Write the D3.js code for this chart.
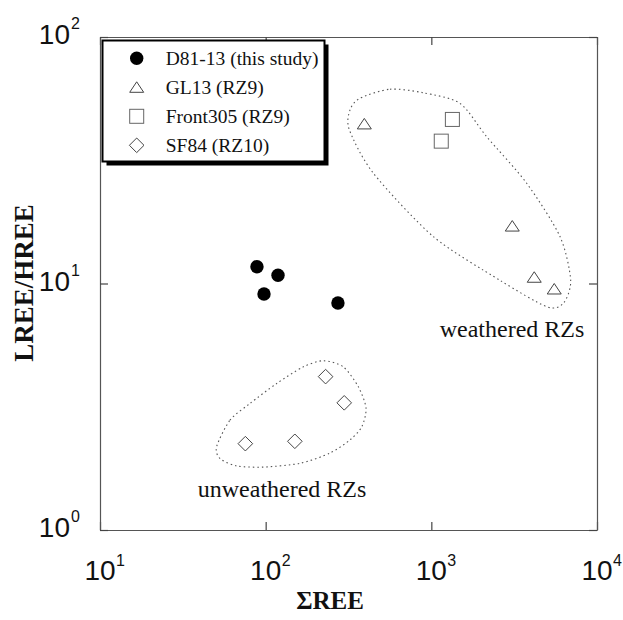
<!DOCTYPE html>
<meta charset="utf-8">
<style>
body { margin: 0; background: #fff; }
.tick-lab { font-family: "Liberation Sans", Arial, sans-serif; fill: #111; }
.serif { font-family: "Liberation Serif", "Times New Roman", serif; fill: #111; }
</style>
<body>
<svg id="chart" width="623" height="620"></svg>
<script src="https://d3js.org/d3.v7.min.js"></script>
<script>

// samples: sum REE vs LREE/HREE
var d81 = [[88.6, 11.7], [97.7, 9.07], [118.7, 10.8], [273, 8.34]];
var gl13 = [[394, 44.4], [3080, 17.1], [4180, 10.6], [5520, 9.5]];
var front305 = [[1340, 46.3], [1148, 37.8]];
var sf84 = [[230, 4.19], [298, 3.28], [75.4, 2.24], [150, 2.29]];

// dotted envelopes (data coords)
var weathered = [[371, 56.4], [563, 61.4], [894, 59.4], [1489, 53.8], [2158, 39.4], [3765, 25.5],
  [5980, 15.5], [6935, 10.3], [6260, 8.31], [4970, 8.05], [2597, 10.3], [1028, 15.5],
  [447, 28.0], [320, 42.0], [323, 50.6]];
var unweathered = [[50.6, 2.18], [60.9, 2.79], [80.4, 3.26], [116.6, 3.93], [168.7, 4.59],
  [222.8, 4.86], [294.1, 4.59], [362.6, 3.81], [403.5, 3.12], [380, 2.62], [323, 2.32],
  [244, 2.05], [161, 1.865], [96.8, 1.80], [66.8, 1.82], [53.0, 1.95]];

var xTicks = [10, 100, 1000, 10000];
var yTicks = [1, 10, 100];
var legendLabels = ["D81-13 (this study)", "GL13 (RZ9)", "Front305 (RZ9)", "SF84 (RZ10)"];
var zoneLabels = [["weathered RZs", 3070, 6.08], ["unweathered RZs", 125.6, 1.365]];

var svg = d3.select("#chart");
var pl = 100, pr = 597, pt = 37, pb = 530;

var x = d3.scaleLog().domain([10, 1e4]).range([pl, pr]);
var y = d3.scaleLog().domain([1, 100]).range([pb, pt]);

function frameAxis(axis, tx, ty) {
  var g = svg.append("g").attr("transform", "translate(" + tx + "," + ty + ")").call(axis);
  g.selectAll("text").remove();
  g.select(".domain").attr("stroke", "#555").attr("stroke-width", 1.2);
  g.selectAll(".tick line").attr("stroke", "#444").attr("stroke-width", 1.2);
  return g;
}
frameAxis(d3.axisBottom(x).tickValues(xTicks).tickSizeInner(-8).tickSizeOuter(0), 0, pb);
frameAxis(d3.axisTop(x).tickValues(xTicks).tickSizeInner(-8).tickSizeOuter(0), 0, pt);
frameAxis(d3.axisLeft(y).tickValues(yTicks).tickSizeInner(-8).tickSizeOuter(0), pl, 0);
frameAxis(d3.axisRight(y).tickValues(yTicks).tickSizeInner(-8).tickSizeOuter(0), pr, 0);

// tick labels 10^n
var fs = 28, sup = 16;
svg.selectAll(".xl").data(xTicks).enter().append("text")
  .attr("class", "tick-lab").attr("x", d => x(d)).attr("y", 580)
  .attr("text-anchor", "middle").style("font-size", fs + "px").text("10");
svg.selectAll(".xs").data(xTicks).enter().append("text")
  .attr("class", "tick-lab").attr("x", d => x(d) + 16).attr("y", 566)
  .style("font-size", sup + "px").text(d => Math.round(Math.log10(d)));
svg.selectAll(".yl").data(yTicks).enter().append("text")
  .attr("class", "tick-lab").attr("x", 70).attr("y", d => y(d) + 7)
  .attr("text-anchor", "end").style("font-size", fs + "px").text("10");
svg.selectAll(".ys").data(yTicks).enter().append("text")
  .attr("class", "tick-lab").attr("x", 71).attr("y", d => y(d) - 8)
  .style("font-size", sup + "px").text(d => Math.round(Math.log10(d)));

// axis titles
svg.append("text").attr("class", "serif").attr("x", 330).attr("y", 609)
  .attr("text-anchor", "middle").style("font-size", "25px").style("font-weight", "bold")
  .text("ΣREE");
svg.append("text").attr("class", "serif")
  .attr("transform", "translate(33,283) rotate(-90)")
  .attr("text-anchor", "middle").style("font-size", "27px").style("font-weight", "bold")
  .text("LREE/HREE");

// envelopes
var env = d3.line().x(d => x(d[0])).y(d => y(d[1])).curve(d3.curveCardinalClosed.tension(0.2));
[weathered, unweathered].forEach(function(pts) {
  svg.append("path").attr("d", env(pts)).attr("fill", "none")
    .attr("stroke", "#555").attr("stroke-width", 1.1).attr("stroke-dasharray", "1.5,3");
});

svg.selectAll(".zl").data(zoneLabels).enter().append("text")
  .attr("class", "serif").attr("x", d => x(d[1])).attr("y", d => y(d[2]))
  .attr("text-anchor", "middle").style("font-size", "24px").text(d => d[0]);

// markers
var triPath = "M0,-5.5L7,5L-7,5Z";
function marker(sel, kind) {
  if (kind === 0) {
    sel.append("circle").attr("r", 6.7).attr("fill", "#000");
  } else if (kind === 1) {
    sel.append("path").attr("d", triPath).attr("fill", "none").attr("stroke", "#444").attr("stroke-width", 1);
  } else if (kind === 2) {
    sel.append("rect").attr("x", -7).attr("y", -7).attr("width", 14).attr("height", 14)
      .attr("fill", "none").attr("stroke", "#666").attr("stroke-width", 1);
  } else {
    sel.append("path").attr("d", "M0,-7.3L7.3,0L0,7.3L-7.3,0Z")
      .attr("fill", "none").attr("stroke", "#444").attr("stroke-width", 1);
  }
}
[d81, gl13, front305, sf84].forEach(function(set, k) {
  var g = svg.selectAll(".m" + k).data(set).enter().append("g")
    .attr("transform", d => "translate(" + x(d[0]) + "," + y(d[1]) + ")");
  marker(g, k);
});

// legend
var lg = svg.append("g");
lg.append("rect").attr("x", 106.5).attr("y", 44.5).attr("width", 222).attr("height", 121).attr("fill", "#000");
lg.append("rect").attr("x", 102.5).attr("y", 40.5).attr("width", 222).attr("height", 121)
  .attr("fill", "#fff").attr("stroke", "#000").attr("stroke-width", 2);
legendLabels.forEach(function(t, i) {
  var row = lg.append("g").attr("transform", "translate(136.7," + (58.3 + i * 29) + ")");
  marker(row, i);
  row.append("text").attr("class", "serif").attr("x", 29).attr("y", 6.5)
    .style("font-size", "19.5px").text(t);
});

</script>
</body>
